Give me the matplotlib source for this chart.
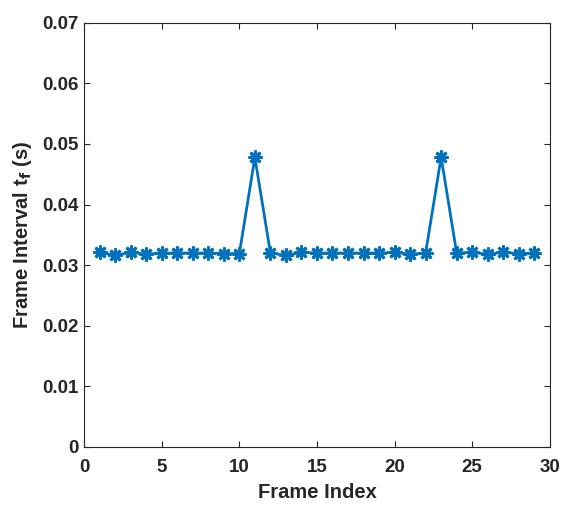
import matplotlib.pyplot as plt
import numpy as np

frames = np.arange(1, 30)
intervals = [0.0321, 0.0316, 0.0321, 0.0318, 0.0320, 0.0320, 0.0320, 0.0320, 0.0319, 0.0319,
             0.0478, 0.0320, 0.0316, 0.0321, 0.0320, 0.0320, 0.0320, 0.0320, 0.0320, 0.0321,
             0.0318, 0.0320, 0.0478, 0.0320, 0.0321, 0.0318, 0.0321, 0.0319, 0.0320]
x_ticks = [0, 5, 10, 15, 20, 25, 30]
y_ticks = [0, 0.01, 0.02, 0.03, 0.04, 0.05, 0.06, 0.07]

plt.rcParams['font.family'] = ['Liberation Sans', 'DejaVu Sans']
plt.rcParams['font.weight'] = 'bold'
dark = '#262626'

fig = plt.figure(figsize=(5.61, 5.05), dpi=100)
ax = fig.add_axes([0.150, 0.115, 0.830, 0.840])

# MATLAB style asterisk marker (8 arms)
ax.plot(frames, intervals, '-', marker=(8, 2, 0), color='#0072BD', linewidth=2,
        markersize=10, markeredgewidth=2)

ax.set_xlim(0, 30)
ax.set_ylim(0, 0.07)
ax.set_xticks(x_ticks)
ax.set_yticks(y_ticks)
ax.set_yticklabels(['0', '0.01', '0.02', '0.03', '0.04', '0.05', '0.06', '0.07'])
ax.tick_params(direction='in', top=True, right=True, labelsize=13.5, colors=dark, length=4)
ax.tick_params(axis='x', pad=9)
ax.tick_params(axis='y', pad=4)
for s in ax.spines.values():
    s.set_color(dark)
    s.set_linewidth(0.8)

ax.set_xlabel('Frame Index', fontsize=14.5, fontweight='bold', color=dark, labelpad=5)
ax.set_ylabel('Frame Interval t$_\\mathbf{f}$ (s)', fontsize=14.5, fontweight='bold', color=dark, labelpad=6)

plt.savefig('out.png', dpi=100)
